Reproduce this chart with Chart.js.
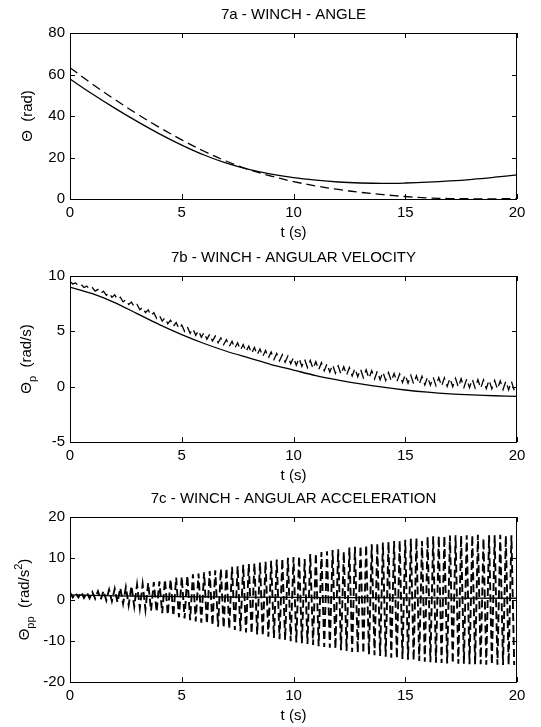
<!DOCTYPE html>
<html>
<head>
<meta charset="utf-8">
<script src="https://cdn.jsdelivr.net/npm/chart.js@4.4.1/dist/chart.umd.min.js"></script>
<style>
  html, body { margin: 0; padding: 0; background: #fff; }
  #wrap { position: relative; width: 541px; height: 727px; overflow: hidden; }
  canvas { position: absolute; left: 0; }
</style>
</head>
<body>
<div id="wrap">
  <canvas id="c1" width="541" height="242" style="top:0px"></canvas>
  <canvas id="c2" width="541" height="242" style="top:242px"></canvas>
  <canvas id="c3" width="541" height="243" style="top:484px"></canvas>
</div>
<script>
// ── 7a: winch angle (rad), sampled every second ──
const tSec = [0, 1, 2, 3, 4, 5, 6, 7, 8, 9, 10, 11, 12, 13, 14, 15, 16, 17, 18, 19, 20];
const angleSolid  = [57.8, 50.6, 43.8, 37.4, 31.4, 26.0, 21.2, 17.3, 14.3, 12.0, 10.3, 9.1, 8.2, 7.7, 7.5, 7.7, 8.1, 8.7, 9.5, 10.5, 11.6];
const angleDashed = [63.3, 55.4, 48.0, 41.0, 34.5, 28.5, 23.0, 18.2, 14.2, 11.0, 8.4, 6.3, 4.6, 3.2, 2.1, 1.2, 0.5, 0.2, 0.1, 0.1, 0.2];

// ── 7b: winch angular velocity (rad/s) ──
const velSolid = [9.0, 8.4, 7.6, 6.6, 5.6, 4.7, 3.9, 3.2, 2.6, 2.0, 1.5, 1.0, 0.6, 0.25, -0.05, -0.3, -0.5, -0.65, -0.75, -0.82, -0.87];
// dashed curve oscillates: crests every 0.25 s, troughs half a period later
const oscPeriod = 0.25;
const velCrest = [
  9.5, 9.37, 9.23, 9.09,  8.95, 8.79, 8.63, 8.47,  8.3, 8.08, 7.86, 7.64,  7.42, 7.18, 6.94, 6.69,
  6.45, 6.23, 6.01, 5.79,  5.57, 5.4, 5.24, 5.07,  4.9, 4.74, 4.57, 4.41,  4.25, 4.1, 3.96, 3.81,
  3.67, 3.54, 3.4, 3.27,  3.13, 3.01, 2.89, 2.77,  2.65, 2.56, 2.46, 2.37,  2.27, 2.17, 2.07, 1.98,
  1.88, 1.8, 1.73, 1.65,  1.58, 1.52, 1.45, 1.39,  1.33, 1.27, 1.2, 1.14,  1.08, 1.03, 0.98, 0.93,
  0.88, 0.85, 0.82, 0.8,  0.77, 0.75, 0.72, 0.7,  0.67, 0.64, 0.62, 0.59,  0.56, 0.53, 0.5, 0.48];
const velTrough = [
  9.28, 9.12, 8.96, 8.8,  8.63, 8.44, 8.26, 8.07,  7.89, 7.66, 7.43, 7.2,  6.95, 6.69, 6.43, 6.17,
  5.92, 5.69, 5.46, 5.23,  5.0, 4.82, 4.64, 4.46,  4.28, 4.12, 3.96, 3.8,  3.63, 3.48, 3.32, 3.17,
  3.01, 2.87, 2.73, 2.59,  2.46, 2.33, 2.2, 2.07,  1.94, 1.83, 1.73, 1.62,  1.52, 1.42, 1.31, 1.21,
  1.11, 1.04, 0.96, 0.89,  0.81, 0.75, 0.69, 0.63,  0.56, 0.5, 0.44, 0.38,  0.31, 0.26, 0.21, 0.16,
  0.12, 0.08, 0.05, 0.02,  -0.01, -0.04, -0.07, -0.09,  -0.12, -0.15, -0.17, -0.2,  -0.23, -0.26, -0.29, -0.32];

// ── 7c: winch angular acceleration (rad/s^2) ──
const tAccSolid = [0, 2, 5, 10, 15, 20];
const accSolid  = [1.1, 0.9, 0.7, 0.5, 0.4, 0.3];
const accCrest = [
  1.7, 1.6, 1.8, 1.7,  1.8, 2.0, 2.1, 2.4,  2.6, 2.8, 3.0, 3.3,  3.6, 3.7, 4.0, 4.2,
  4.4, 4.8, 4.9, 5.3,  5.5, 5.8, 6.1, 6.3,  6.6, 6.9, 7.1, 7.4,  7.6, 7.9, 8.1, 8.4,
  8.6, 8.8, 9.0, 9.2,  9.4, 9.7, 9.9, 10.1,  10.3, 10.5, 9.8, 11.0,  11.2, 11.5, 11.7, 12.0,
  12.2, 11.6, 12.6, 12.8,  13.0, 13.2, 13.4, 13.6,  13.8, 14.0, 14.2, 14.3,  14.5, 14.7, 14.9, 14.2,
  15.2, 15.3, 15.4, 15.4,  15.5, 15.6, 15.5, 15.6,  15.6, 15.7, 14.8, 15.6,  15.6, 15.7, 15.5, 15.6];
const accTrough = [
  0.5, 0.5, 0.4, 0.3,  0.2, 0.0, -0.2, -0.4,  -0.7, -1.0, -1.4, -1.7,  -2.1, -2.4, -2.7, -3.0,
  -3.3, -3.7, -4.0, -4.3,  -4.6, -5.0, -5.3, -5.6,  -5.9, -6.3, -6.6, -6.9,  -7.1, -7.4, -7.7, -8.0,
  -8.3, -8.5, -8.8, -9.0,  -9.3, -9.6, -9.8, -10.1,  -10.4, -10.6, -10.8, -11.0,  -11.3, -11.5, -11.7, -12.0,
  -12.3, -12.5, -12.7, -12.9,  -13.1, -13.3, -13.5, -13.7,  -13.9, -14.1, -14.3, -14.4,  -14.6, -14.8, -14.9, -15.1,
  -15.2, -15.3, -15.4, -15.5,  -15.5, -15.6, -15.6, -15.7,  -15.7, -15.7, -15.8, -15.8,  -15.8, -15.9, -15.8, -15.9];

const FONT = '"Liberation Sans", Arial, Helvetica, sans-serif';
const DASH = [9, 5];

function pts(xs, ys) {
  return xs.map((x, i) => ({ x, y: ys[i] }));
}

// crest/trough pairs -> one zig-zag line
function zigzag(crest, trough) {
  const out = [];
  crest.forEach((c, k) => {
    out.push({ x: +(k * oscPeriod).toFixed(3), y: c });
    out.push({ x: +(k * oscPeriod + oscPeriod / 2).toFixed(3), y: trough[k] });
  });
  return out;
}

// box, inward ticks, title, axis labels (MATLAB look)
const matlabFrame = {
  id: 'matlabFrame',
  afterDraw(chart, args, opts) {
    const { ctx, chartArea: a, scales: { x, y } } = chart;
    ctx.save();
    ctx.strokeStyle = '#000';
    ctx.lineWidth = 1;
    ctx.strokeRect(Math.round(a.left) + 0.5, Math.round(a.top) + 0.5, Math.round(a.width) - 1, Math.round(a.height));
    ctx.beginPath();
    x.ticks.forEach(t => {
      const px = Math.round(x.getPixelForValue(t.value)) + 0.5;
      ctx.moveTo(px, a.bottom); ctx.lineTo(px, a.bottom - 5);
      ctx.moveTo(px, a.top); ctx.lineTo(px, a.top + 5);
    });
    y.ticks.forEach(t => {
      const py = Math.round(y.getPixelForValue(t.value)) + 0.5;
      ctx.moveTo(a.left, py); ctx.lineTo(a.left + 5, py);
      ctx.moveTo(a.right, py); ctx.lineTo(a.right - 5, py);
    });
    ctx.stroke();

    ctx.fillStyle = '#000';
    ctx.textAlign = 'center';
    ctx.textBaseline = 'middle';
    ctx.font = '15px ' + FONT;
    const cx = (a.left + a.right) / 2;
    ctx.fillText(opts.title, cx, a.top - 18);
    ctx.fillText('t (s)', cx, a.bottom + 34);

    // rotated y label made of pieces (sub/superscripts)
    const parts = opts.ylabel;
    const fontFor = p => (p.sub || p.sup ? '11px ' : '15px ') + FONT;
    let total = 0;
    parts.forEach(p => { ctx.font = fontFor(p); total += ctx.measureText(p.t).width; });
    ctx.translate(opts.ylabelX, (a.top + a.bottom) / 2);
    ctx.rotate(-Math.PI / 2);
    ctx.textAlign = 'left';
    let pos = -total / 2;
    parts.forEach(p => {
      ctx.font = fontFor(p);
      const dy = p.sub ? 6 : (p.sup ? -6 : 0);
      ctx.fillText(p.t, pos, dy);
      pos += ctx.measureText(p.t).width;
    });
    ctx.restore();
  }
};

function makePanel(id, height, areaTop, areaBottom, yMin, yMax, yStep, datasets, title, ylabel, ylabelX) {
  const canvas = document.getElementById(id);
  return new Chart(canvas, {
    type: 'scatter',
    data: { datasets },
    options: {
      responsive: false,
      devicePixelRatio: 1,
      animation: false,
      events: [],
      layout: { padding: { top: areaTop, right: 24, left: 0, bottom: 0 } },
      plugins: {
        legend: { display: false },
        tooltip: { enabled: false },
        matlabFrame: { title, ylabel, ylabelX }
      },
      elements: { point: { radius: 0 } },
      scales: {
        x: {
          type: 'linear', min: 0, max: 20,
          afterFit: s => { s.height = height - areaBottom; },
          ticks: { stepSize: 5, color: '#000', padding: 5, font: { size: 15, family: FONT } },
          grid: { display: false, drawTicks: false },
          border: { display: false }
        },
        y: {
          type: 'linear', min: yMin, max: yMax,
          afterFit: s => { s.width = 70; },
          ticks: { stepSize: yStep, color: '#000', padding: 5, font: { size: 15, family: FONT } },
          grid: { display: false, drawTicks: false },
          border: { display: false }
        }
      }
    },
    plugins: [matlabFrame]
  });
}

const solidStyle  = { borderColor: '#000', borderWidth: 1.3, showLine: true, fill: false };
const dashedStyle = { borderColor: '#000', borderWidth: 1.3, showLine: true, fill: false, borderDash: DASH };

makePanel('c1', 242, 33, 199, 0, 80, 20, [
  { ...solidStyle,  data: pts(tSec, angleSolid),  tension: 0.35 },
  { ...dashedStyle, data: pts(tSec, angleDashed), tension: 0.35 }
], '7a - WINCH - ANGLE', [{ t: 'Θ' }, { t: '  (rad)' }], 28);

makePanel('c2', 242, 34, 200, -5, 10, 5, [
  { ...solidStyle,  data: pts(tSec, velSolid), tension: 0.35 },
  { ...dashedStyle, data: zigzag(velCrest, velTrough), tension: 0 }
], '7b - WINCH - ANGULAR VELOCITY', [{ t: 'Θ' }, { t: 'p', sub: true }, { t: '  (rad/s)' }], 27);

makePanel('c3', 243, 33, 198, -20, 20, 10, [
  { ...solidStyle,  data: pts(tAccSolid, accSolid), tension: 0.3 },
  { ...dashedStyle, borderWidth: 1.9, borderDash: [8, 4], data: zigzag(accCrest, accTrough), tension: 0 }
], '7c - WINCH - ANGULAR ACCELERATION', [{ t: 'Θ' }, { t: 'pp', sub: true }, { t: '  (rad/s' }, { t: '2', sup: true }, { t: ')' }], 25);
</script>
</body>
</html>
